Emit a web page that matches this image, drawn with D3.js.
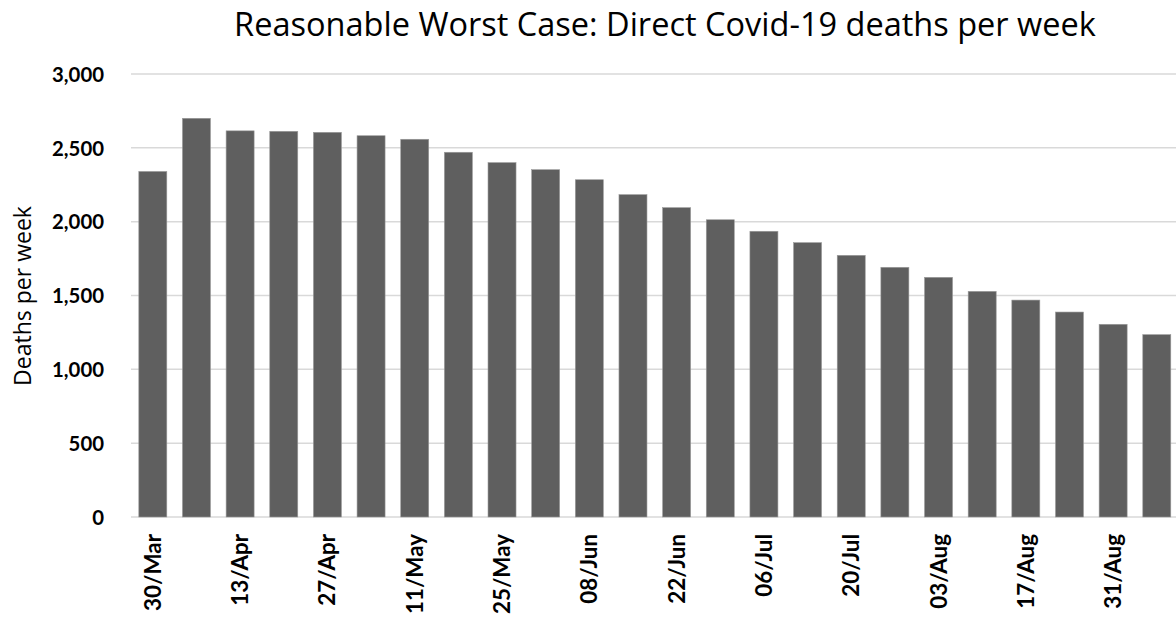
<!DOCTYPE html>
<html>
<head>
<meta charset="utf-8">
<script src="https://cdn.jsdelivr.net/npm/d3@7/dist/d3.min.js"></script>
<style>
  html, body { margin: 0; padding: 0; background: #ffffff; }
  svg { display: block; }
  text { fill: #000000; }
</style>
</head>
<body>
<svg id="chart" width="1176" height="622"></svg>
<script>
// Weekly week-commencing dates (30 March to 7 September)
const weeks = [
  "30/Mar", "06/Apr", "13/Apr", "20/Apr", "27/Apr", "04/May",
  "11/May", "18/May", "25/May", "01/Jun", "08/Jun", "15/Jun",
  "22/Jun", "29/Jun", "06/Jul", "13/Jul", "20/Jul", "27/Jul",
  "03/Aug", "10/Aug", "17/Aug", "24/Aug", "31/Aug", "07/Sep"
];

// Direct Covid-19 deaths per week, reasonable worst case
const deaths = [
  2340, 2700, 2615, 2612, 2605, 2582,
  2558, 2470, 2400, 2352, 2284, 2183,
  2095, 2013, 1935, 1858, 1772, 1691,
  1623, 1528, 1469, 1388, 1305, 1235
];

// Axis ticks
const yTicks = [0, 500, 1000, 1500, 2000, 2500, 3000];
const xTickLabels = weeks.filter((d, i) => i % 2 === 0);

const titleText = "Reasonable Worst Case: Direct Covid-19 deaths per week";
const yAxisTitle = "Deaths per week";

const svg = d3.select("#chart");

const plotLeft = 131, plotRight = 1178.6, plotTop = 74, plotBottom = 517;

// Scale a text selection's font size so that a reference node spans the wanted length
function fitFont(sel, refNode, base, wanted) {
  sel.attr("font-size", base);
  const len = refNode.getComputedTextLength();
  sel.attr("font-size", base * wanted / len);
}

const x = d3.scaleBand()
  .domain(weeks)
  .range([plotLeft, plotRight])
  .paddingInner(0.3585)
  .paddingOuter(0.179);

const y = d3.scaleLinear()
  .domain([0, 3000])
  .range([plotBottom, plotTop]);

// Horizontal gridlines
svg.append("g")
  .selectAll("line")
  .data(yTicks)
  .join("line")
  .attr("x1", plotLeft)
  .attr("x2", 1176)
  .attr("y1", d => y(d))
  .attr("y2", d => y(d))
  .attr("stroke", "#d9d9d9")
  .attr("stroke-width", 1.5);

// Bars
svg.append("g")
  .selectAll("rect")
  .data(weeks.map((w, i) => ({ week: w, value: deaths[i] })))
  .join("rect")
  .attr("x", d => x(d.week))
  .attr("width", x.bandwidth())
  .attr("y", d => y(d.value))
  .attr("height", d => y(0) - y(d.value))
  .attr("fill", "#5f5f5f")
  .attr("stroke", "#9a9a9a")
  .attr("stroke-width", 0.6);

// Y axis labels
const yAxis = d3.axisLeft(y)
  .tickValues(yTicks)
  .tickFormat(d3.format(","))
  .tickSize(0)
  .tickPadding(0);

const yG = svg.append("g")
  .attr("transform", "translate(104,0)")
  .call(yAxis);
yG.select(".domain").remove();
const yLabels = yG.selectAll("text")
  .attr("font-family", "Lato, 'Open Sans', sans-serif")
  .attr("font-weight", "bold")
  .attr("fill", "#000")
  .attr("dy", "0.36em");
fitFont(yLabels, yLabels.filter(d => d === 3000).node(), 20, 52);

// X axis labels, rotated
const xAxis = d3.axisBottom(x)
  .tickValues(xTickLabels)
  .tickSize(0)
  .tickPadding(0);

const xG = svg.append("g")
  .attr("transform", `translate(0,${plotBottom})`)
  .call(xAxis);
xG.select(".domain").remove();
const xLabels = xG.selectAll("text")
  .attr("font-family", "Lato, 'Open Sans', sans-serif")
  .attr("font-weight", "bold")
  .attr("fill", "#000")
  .attr("text-anchor", "end")
  .attr("transform", "rotate(-90)")
  .attr("x", -17)
  .attr("y", 0)
  .attr("dy", "0.36em");
fitFont(xLabels, xLabels.filter(d => d === "30/Mar").node(), 20, 77);

// Y axis title
const yTitle = svg.append("text")
  .attr("transform", "translate(31,296) rotate(-90)")
  .attr("text-anchor", "middle")
  .attr("font-family", "'Open Sans', sans-serif")
  .text(yAxisTitle);
fitFont(yTitle, yTitle.node(), 18, 180);

// Chart title
const title = svg.append("text")
  .attr("x", 665)
  .attr("y", 36)
  .attr("text-anchor", "middle")
  .attr("font-family", "'Open Sans', sans-serif")
  .text(titleText);
fitFont(title, title.node(), 28, 862);
</script>
</body>
</html>
